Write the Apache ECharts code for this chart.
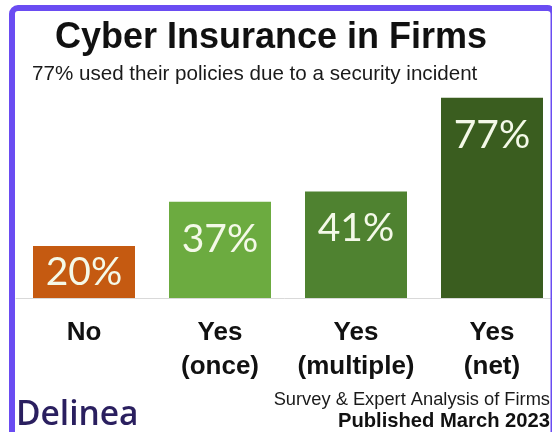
<!DOCTYPE html>
<html>
<head>
<meta charset="utf-8">
<style>
  html, body { margin: 0; padding: 0; background: #ffffff; }
  #chart { width: 552px; height: 432px; }
</style>
<script src="https://cdn.jsdelivr.net/npm/echarts@6/dist/echarts.min.js"></script>
</head>
<body>
<div id="chart"></div>
<script>
const categories = ['No', 'Yes\n(once)', 'Yes\n(multiple)', 'Yes\n(net)'];
const values = [20, 37, 41, 77];
const barColors = ['#c55a11', '#6cab40', '#4f8230', '#3a5d1f'];
const valueLabels = ['20%', '37%', '41%', '77%'];

const chart = echarts.init(document.getElementById('chart'), null, { renderer: 'canvas' });

const seriesData = values.map((v, i) => ({
  value: v,
  itemStyle: { color: barColors[i] },
  label: i === 0 ? { position: 'inside', distance: 0 } : { position: 'insideTop', distance: 18 }
}));

chart.setOption({
  animation: false,
  backgroundColor: '#ffffff',
  title: [
    {
      text: 'Cyber Insurance in Firms',
      left: 55, top: 20, padding: 0,
      textStyle: { fontFamily: 'Liberation Sans, Arial, sans-serif', fontWeight: 'bold', fontSize: 36, color: '#111111' }
    },
    {
      text: '77% used their policies due to a security incident',
      left: 32, top: 64, padding: 0,
      textStyle: { fontFamily: 'Liberation Sans, Arial, sans-serif', fontWeight: 'normal', fontSize: 20.6, color: '#1a1a1a' }
    },
    {
      text: 'Delinea',
      left: 16, top: 398, padding: 0,
      textStyle: { fontFamily: 'Open Sans, sans-serif', fontWeight: 600, fontSize: 33.5, color: '#2a1f5f' }
    },
    {
      text: 'Survey & Expert Analysis of Firms',
      right: 2, top: 391, padding: 0,
      textStyle: { fontFamily: 'Liberation Sans, Arial, sans-serif', fontWeight: 'normal', fontSize: 18.3, color: '#1a1a1a' }
    },
    {
      text: 'Published March 2023',
      right: 2, top: 411, padding: 0,
      textStyle: { fontFamily: 'Liberation Sans, Arial, sans-serif', fontWeight: 'bold', fontSize: 20.2, color: '#111111' }
    }
  ],
  graphic: [
    {
      type: 'rect',
      shape: { x: 12, y: 8, width: 541.5, height: 460, r: 6 },
      style: { fill: 'none', stroke: '#6a4cf2', lineWidth: 6 },
      z: 100, silent: true
    }
  ],
  grid: { left: 16, width: 544, top: 38, bottom: 134, containLabel: false, outerBoundsMode: 'none' },
  xAxis: {
    type: 'category',
    data: categories,
    axisLine: { show: true, lineStyle: { color: '#d9d9d9', width: 1 } },
    axisTick: { show: false },
    axisLabel: {
      interval: 0,
      margin: 18,
      fontFamily: 'Liberation Sans, Arial, sans-serif',
      fontWeight: 'bold',
      fontSize: 26,
      lineHeight: 34,
      color: '#111111'
    }
  },
  yAxis: {
    type: 'value',
    min: 0, max: 100,
    show: false,
    splitLine: { show: false }
  },
  series: [{
    type: 'bar',
    data: seriesData,
    barCategoryGap: '25%',
    label: {
      show: true,
      formatter: (p) => valueLabels[p.dataIndex],
      fontFamily: 'Lato, sans-serif',
      fontSize: 39,
      color: '#f4f9e8'
    }
  }]
});
</script>
</body>
</html>
